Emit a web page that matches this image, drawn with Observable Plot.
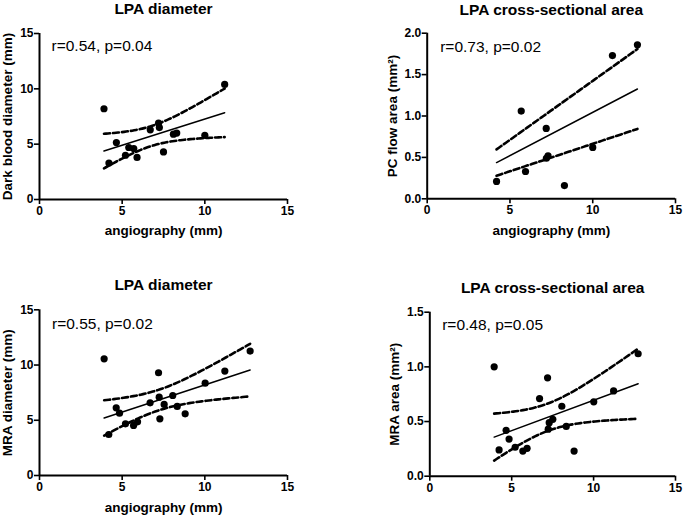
<!DOCTYPE html>
<html>
<head>
<meta charset="utf-8">
<script src="https://cdn.jsdelivr.net/npm/d3@7"></script>
<script src="https://cdn.jsdelivr.net/npm/@observablehq/plot@0.6"></script>
<style>
  body { margin: 0; background: white; }
  #chart { position: relative; width: 685px; height: 518px; background: white; overflow: hidden; }
  #chart svg { position: absolute; }
</style>
</head>
<body>
<div id="chart"></div>
<script>
// ---- data ----
const xTicks = [0, 5, 10, 15];

const p1Angio = [3.9, 4.2, 4.65, 5.2, 5.4, 5.7, 5.9, 6.7, 7.2, 7.25, 7.5, 8.1, 8.3, 10.0, 11.2];
const p1DarkBlood = [8.2, 3.3, 5.15, 4.0, 4.7, 4.6, 3.8, 6.3, 6.9, 6.5, 4.3, 5.9, 6.0, 5.8, 10.4];

const p2Angio = [4.19, 5.68, 5.94, 7.19, 7.2, 7.3, 8.29, 10.0, 11.19, 12.7];
const p2PCArea = [0.21, 1.06, 0.33, 0.85, 0.49, 0.52, 0.16, 0.62, 1.73, 1.86];

const p3Angio = [3.91, 4.19, 4.64, 4.84, 5.2, 5.69, 5.93, 6.69, 7.2, 7.24, 7.28, 7.54, 8.06, 8.33, 8.81, 10.02, 11.21, 12.74];
const p3MRADiam = [10.56, 3.71, 6.13, 5.64, 4.68, 4.53, 4.86, 6.58, 9.30, 7.09, 5.13, 6.43, 7.24, 6.25, 5.58, 8.36, 9.45, 11.26];

const p4Angio = [3.93, 4.23, 4.66, 4.84, 5.21, 5.68, 5.94, 6.70, 7.19, 7.23, 7.29, 7.51, 8.06, 8.33, 8.81, 10.01, 11.22, 12.72];
const p4MRAArea = [1.00, 0.24, 0.42, 0.34, 0.265, 0.23, 0.255, 0.71, 0.90, 0.43, 0.49, 0.52, 0.64, 0.455, 0.23, 0.68, 0.78, 1.12];

const titles = ["LPA diameter", "LPA cross-sectional area", "LPA diameter", "LPA cross-sectional area"];
const yLabels = ["Dark blood diameter (mm)", "PC flow area (mm²)", "MRA diameter (mm)", "MRA area (mm²)"];
const xLabel = "angiography (mm)";
const stats = ["r=0.54, p=0.04", "r=0.73, p=0.02", "r=0.55, p=0.02", "r=0.48, p=0.05"];
const yTicks15 = [0, 5, 10, 15];
const yTicks2 = [0, 0.5, 1.0, 1.5, 2.0];
const yTicks15b = [0, 0.5, 1.0, 1.5];

// two-sided 95% t quantiles by degrees of freedom
const t975 = {7: 2.365, 8: 2.306, 9: 2.262, 10: 2.228, 11: 2.201, 12: 2.179, 13: 2.160, 14: 2.145, 15: 2.131, 16: 2.120, 17: 2.110};

// ---- regression with 95% confidence band ----
function fit(xs, ys, throughOrigin) {
  const n = xs.length;
  const x0 = d3.min(xs), x1 = d3.max(xs);
  const grid = d3.range(0, 61).map(i => x0 + (x1 - x0) * i / 60);
  let pred, se;
  if (throughOrigin) {
    const sxx = d3.sum(xs, x => x * x);
    const sxy = d3.sum(xs, (x, i) => x * ys[i]);
    const b = sxy / sxx;
    const rss = d3.sum(xs, (x, i) => (ys[i] - b * x) ** 2);
    const s = Math.sqrt(rss / (n - 1));
    const t = t975[n - 1];
    pred = x => b * x;
    se = x => t * s * Math.abs(x) / Math.sqrt(sxx);
  } else {
    const mx = d3.mean(xs), my = d3.mean(ys);
    const sxx = d3.sum(xs, x => (x - mx) ** 2);
    const sxy = d3.sum(xs, (x, i) => (x - mx) * (ys[i] - my));
    const b = sxy / sxx, a = my - b * mx;
    const rss = d3.sum(xs, (x, i) => (ys[i] - a - b * x) ** 2);
    const s = Math.sqrt(rss / (n - 2));
    const t = t975[n - 2];
    pred = x => a + b * x;
    se = x => t * s * Math.sqrt(1 / n + (x - mx) ** 2 / sxx);
  }
  return {
    line: [x0, x1].map(x => ({x, y: pred(x)})),
    upper: grid.map(x => ({x, y: pred(x) + se(x)})),
    lower: grid.map(x => ({x, y: pred(x) - se(x)}))
  };
}

const FONT = "'Liberation Sans', Arial, Helvetica, sans-serif";

function panel(cfg) {
  const pts = cfg.xs.map((x, i) => ({x, y: cfg.ys[i]}));
  const f = fit(cfg.xs, cfg.ys, cfg.origin);
  const marks = [
    Plot.axisX({ticks: xTicks, tickSize: 5, tickPadding: 2, label: null, strokeWidth: 1.6, fontSize: 12, fontWeight: "bold"}),
    Plot.axisY({ticks: cfg.yTicks, tickSize: 5, tickPadding: 1, label: null, strokeWidth: 1.6, tickFormat: cfg.fmt, fontSize: 12, fontWeight: "bold"}),
    Plot.ruleY([cfg.yDomain[0]], {strokeWidth: 2}),
    Plot.ruleX([0], {strokeWidth: 2}),
    Plot.line(f.line, {x: "x", y: "y", stroke: "black", strokeWidth: 1.5}),
    Plot.line(f.upper, {x: "x", y: "y", stroke: "black", strokeWidth: 2.6, strokeDasharray: "6,3"}),
    Plot.line(f.lower, {x: "x", y: "y", stroke: "black", strokeWidth: 2.6, strokeDasharray: "6,3"}),
    Plot.dot(pts, {x: "x", y: "y", r: 3.6, fill: "black", stroke: "none"}),
    Plot.text([cfg.title], {text: d => d, frameAnchor: "top", textAnchor: "middle", lineAnchor: "middle", dy: cfg.titleDy, fontSize: 15.5, fontWeight: "bold"}),
    Plot.text([cfg.yLabel], {text: d => d, frameAnchor: "left", rotate: -90, textAnchor: "middle", lineAnchor: "middle", dx: cfg.yLabelDx, fontSize: 13.5, fontWeight: "bold"}),
    Plot.text([cfg.stat], {text: d => d, frameAnchor: "top-left", textAnchor: "start", lineAnchor: "middle", dx: cfg.statDx, dy: cfg.statDy, fontSize: 15.5, fontWeight: "normal"})
  ];
  if (cfg.showXLabel) {
    marks.push(Plot.text([xLabel], {text: d => d, frameAnchor: "bottom", textAnchor: "middle", lineAnchor: "middle", dy: cfg.xLabelDy, fontSize: 13.5, fontWeight: "bold"}));
  }
  const svg = Plot.plot({
    width: cfg.width, height: cfg.height,
    marginLeft: cfg.ml, marginRight: cfg.mr, marginTop: cfg.mt, marginBottom: cfg.mb,
    x: {domain: [0, 15]},
    y: {domain: cfg.yDomain},
    style: {fontFamily: FONT, fontSize: "12px", fontWeight: "bold", color: "black", background: "white", overflow: "visible"},
    marks
  });
  svg.style.left = cfg.left + "px";
  svg.style.top = cfg.top + "px";
  document.getElementById("chart").appendChild(svg);
}

panel({left: 0, top: 0, width: 300, height: 250, ml: 39, mr: 13, mt: 33, mb: 51,
  xs: p1Angio, ys: p1DarkBlood, yDomain: [0, 15], yTicks: yTicks15, fmt: d3.format("d"),
  title: titles[0], yLabel: yLabels[0], stat: stats[0], origin: false,
  titleDy: -24, yLabelDx: -32, statDx: 12, statDy: 13, showXLabel: true, xLabelDy: 31});

panel({left: 340, top: 0, width: 345, height: 250, ml: 86.7, mr: 10, mt: 32.7, mb: 51.7,
  xs: p2Angio, ys: p2PCArea, yDomain: [0, 2], yTicks: yTicks2, fmt: d3.format(".1f"),
  title: titles[1], yLabel: yLabels[1], stat: stats[1], origin: true,
  titleDy: -23.5, yLabelDx: -35, statDx: 13, statDy: 14, showXLabel: true, xLabelDy: 31.5});

panel({left: 0, top: 260, width: 300, height: 258, ml: 39, mr: 13, mt: 49.3, mb: 43,
  xs: p3Angio, ys: p3MRADiam, yDomain: [0, 15], yTicks: yTicks15, fmt: d3.format("d"),
  title: titles[2], yLabel: yLabels[2], stat: stats[2], origin: false,
  titleDy: -24.3, yLabelDx: -32, statDx: 12.5, statDy: 14, showXLabel: true, xLabelDy: 31.7});

panel({left: 340, top: 260, width: 345, height: 258, ml: 89.3, mr: 10, mt: 51.7, mb: 42.3,
  xs: p4Angio, ys: p4MRAArea, yDomain: [0, 1.5], yTicks: yTicks15b, fmt: d3.format(".1f"),
  title: titles[3], yLabel: yLabels[3], stat: stats[3], origin: false,
  titleDy: -24.4, yLabelDx: -35, statDx: 12.4, statDy: 13.3, showXLabel: false, xLabelDy: 31.7});
</script>
</body>
</html>
